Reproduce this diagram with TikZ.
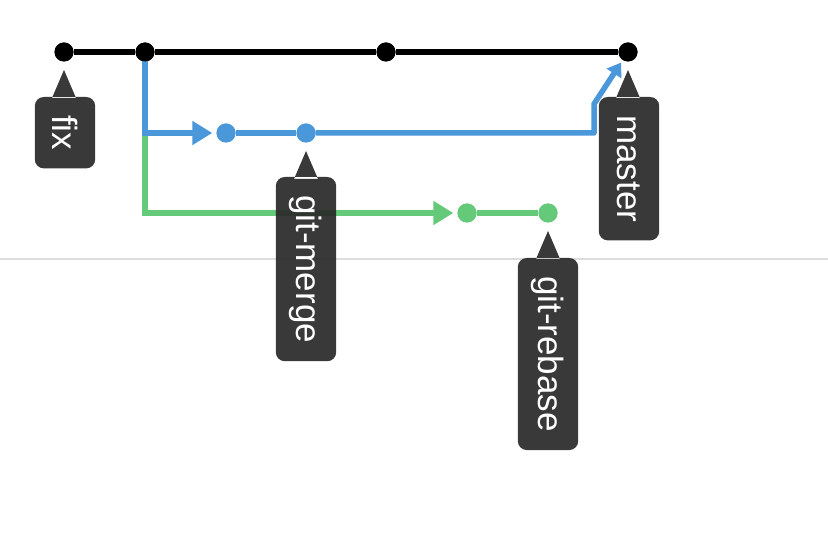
\documentclass[tikz,border=0pt]{standalone}
\usepackage{fontspec}
\setmainfont{Liberation Sans}
\usetikzlibrary{arrows.meta}
\definecolor{mainline}{HTML}{000000}
\definecolor{featblue}{HTML}{4A97DA}
\definecolor{featgreen}{HTML}{64C978}
\definecolor{tagbg}{HTML}{2A2A2A}
\definecolor{rule}{HTML}{DDDDDD}
\begin{document}
\begin{tikzpicture}[x=1pt,y=-1pt,
  commit/.style={circle, fill=#1, inner sep=0pt, minimum size=19pt},
  branchline/.style={line width=5.5pt, draw=#1},
  tagtext/.style={rotate=-90, anchor=west, text=white, inner xsep=18pt, inner ysep=0pt,
    minimum height=60pt, font=\fontsize{35}{35}\selectfont},
  tagfill/.style={fill=tagbg, fill opacity=0.93},
  tip/.style={-{Triangle[length=20pt,width=23pt]}}
]
\useasboundingbox (0,0) rectangle (828,534);

% separator rule
\draw[rule, line width=2pt] (0,259) -- (828,259);

% commits
\node[commit=mainline] (m1) at (64,52) {};
\node[commit=mainline] (m2) at (145,52) {};
\node[commit=mainline] (m3) at (386,52) {};
\node[commit=mainline] (m4) at (628,52) {};
\node[commit=featblue] (b1) at (226,133) {};
\node[commit=featblue] (b2) at (306,133) {};
\node[commit=featgreen] (g1) at (467,213) {};
\node[commit=featgreen] (g2) at (548,213) {};
\coordinate (bturn) at (594,133);
\coordinate (bbend) at (594,104);

% main line
\draw[line width=6pt] (m1) -- (m2) -- (m3) -- (m4);

% green branch (drawn first so the blue one overlaps it)
\draw[branchline=featgreen, tip, shorten >=4pt] (m2.center) |- (g1);
\draw[branchline=featgreen] (g1) -- (g2);

% blue branch and its merge into master
\draw[branchline=featblue, tip, shorten >=4pt] (m2.center) |- (b1);
\draw[branchline=featblue] (b1) -- (b2);
\draw[branchline=featblue, line join=round, -{Triangle[length=13pt,width=17pt]}, shorten >=3pt]
  (b2) -- (bturn) -- (bbend) -- (m4);

% re-draw commits on top of the lines
\foreach \c/\col in {m1/mainline,m2/mainline,m3/mainline,m4/mainline,b1/featblue,b2/featblue,g1/featgreen,g2/featgreen}
  \fill[\col] (\c) circle (9.5pt);

% tags
\node[tagtext] (tfix) at (65,97) {fix};
\node[tagtext] (tmaster) at (629,97) {master};
\node[tagtext] (tmerge) at (306,177) {git-merge};
\node[tagtext] (trebase) at (548,258) {git-rebase};

% tag backgrounds: rounded box plus pointer, filled in one path
\foreach \t/\c in {tfix/m1,tmaster/m4,tmerge/b2,trebase/g2}{
  \path (\c) ++(0,18) coordinate (pt);
  \fill[tagfill] [rounded corners=9pt] (\t.north west) rectangle (\t.south east)
    [sharp corners] (pt) -- ++(-12,28) -- ++(24,0) -- cycle;
}
% text over the fills
\node[tagtext] at (65,97) {fix};
\node[tagtext] at (629,97) {master};
\node[tagtext] at (306,177) {git-merge};
\node[tagtext] at (548,258) {git-rebase};
\end{tikzpicture}
\end{document}
